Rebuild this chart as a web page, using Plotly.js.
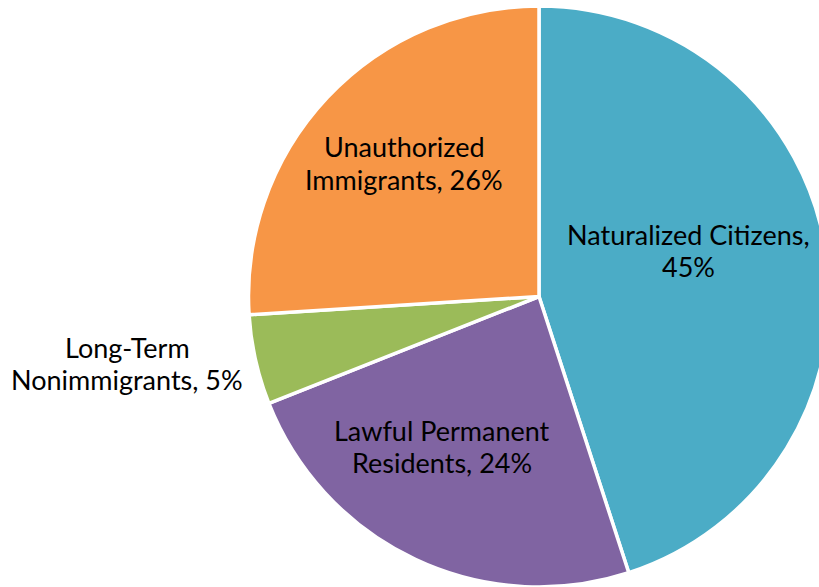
<!DOCTYPE html>
<html>
<head>
<meta charset="utf-8">
<script src="https://cdn.plot.ly/plotly-3.0.1.min.js"></script>
<style>
html,body{margin:0;padding:0;overflow:hidden;background:#fff;}
#chart{width:830px;height:587px;}
</style>
</head>
<body>
<div id="chart"></div>
<script>
var categories = ["Naturalized Citizens", "Lawful Permanent Residents", "Long-Term Nonimmigrants", "Unauthorized Immigrants"];
var shares = [45, 24, 5, 26];
var labelLines = [["Naturalized Citizens,", "45%"], ["Lawful Permanent", "Residents, 24%"], ["Long-Term", "Nonimmigrants, 5%"], ["Unauthorized", "Immigrants, 26%"]];
var colors = ["#4BACC6", "#8064A2", "#9BBB59", "#F79646"];

// label block centres in pixels (layout only)
var labelCentersPx = [[688, 250], [442, 446], [127, 363], [404, 163]];
var lineGap = 32;

var W = 830, H = 587, M = {l: 248, r: 0, t: 6, b: 0};
var pw = W - M.l - M.r, ph = H - M.t - M.b;

var trace = {
  type: "pie",
  labels: categories,
  values: shares,
  textinfo: "none",
  hoverinfo: "label+percent",
  sort: false,
  direction: "clockwise",
  rotation: 0,
  marker: {colors: colors, line: {color: "#fff", width: 3.5}},
  showlegend: false
};

var annotations = [];
labelLines.forEach(function (lines, i) {
  var cx = labelCentersPx[i][0], cy = labelCentersPx[i][1];
  lines.forEach(function (ln, j) {
    var py = cy + (j - (lines.length - 1) / 2) * lineGap;
    annotations.push({
      text: ln,
      xref: "paper", yref: "paper",
      x: (cx - M.l) / pw,
      y: 1 - (py - M.t) / ph,
      xanchor: "center", yanchor: "middle",
      showarrow: false,
      font: {family: "Lato, 'Open Sans', sans-serif", size: 27, color: "#000"}
    });
  });
});

var layout = {
  width: W,
  height: H,
  margin: M,
  paper_bgcolor: "#fff",
  showlegend: false,
  annotations: annotations
};

Plotly.newPlot("chart", [trace], layout, {displayModeBar: false, staticPlot: true});
</script>
</body>
</html>
